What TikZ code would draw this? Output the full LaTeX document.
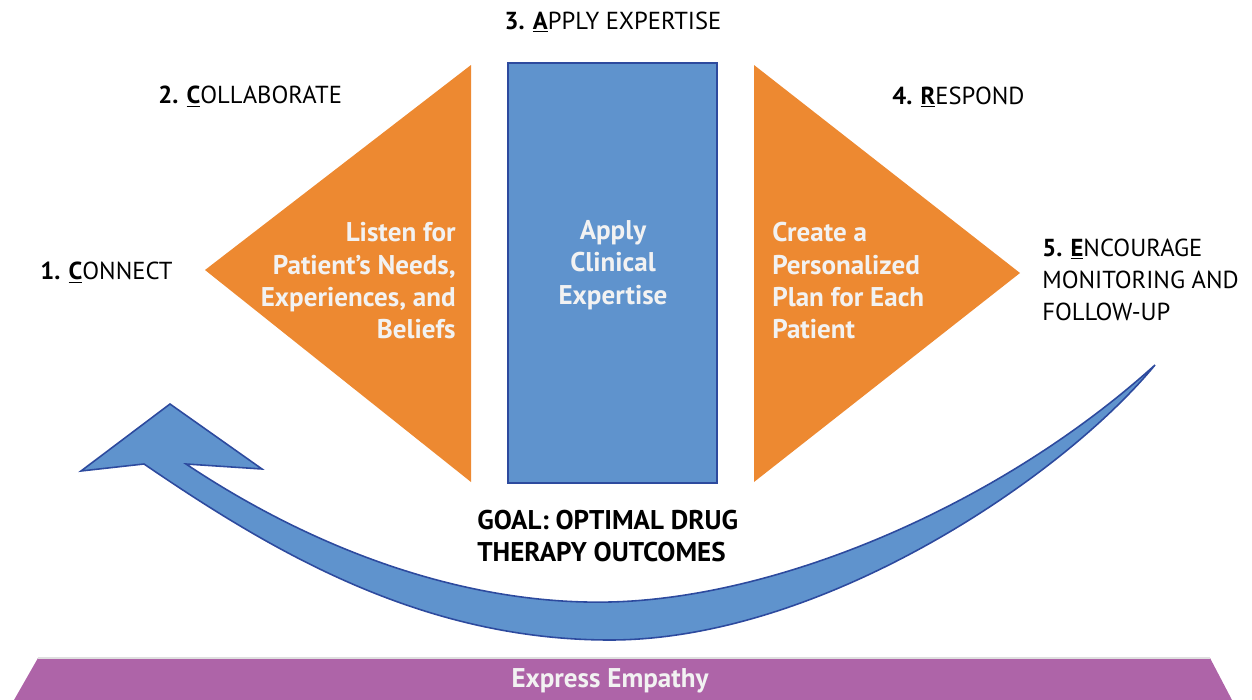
\documentclass[tikz,border=0pt]{standalone}
\usepackage{fontspec}
\setmainfont{PT Sans}
\definecolor{wedgeorange}{RGB}{237,137,49}
\definecolor{boxblue}{RGB}{95,147,205}
\definecolor{edgeblue}{RGB}{45,74,158}
\definecolor{basepurple}{RGB}{174,100,168}
\definecolor{paletext}{RGB}{242,242,242}
\tikzset{
  steplabel/.style={inner sep=0pt, font=\fontsize{14}{18.4}\selectfont},
  boxtext/.style={inner sep=0pt, text=paletext, font=\fontsize{15.4}{18.4}\selectfont\bfseries},
}
\begin{document}
\begin{tikzpicture}[x=0.02cm, y=-0.02cm]
\def\leftwedge{(205,270) -- (471,65) -- (471,482) -- cycle}
\def\rightwedge{(754,65) -- (1020,273) -- (754,482) -- cycle}
\def\basebar{(38,658) -- (1210,658) -- (1232,700) -- (14,700) -- cycle}
\useasboundingbox (0,0) rectangle (1252,700);
\fill[wedgeorange] \leftwedge;
\fill[wedgeorange] \rightwedge;
\draw[edgeblue, line width=1.2pt, fill=boxblue] (508,63) rectangle (717,483);
\fill[basepurple] \basebar;
\draw[gray!25, line width=1pt] (38,658) -- (1210,658);
% curved return arrow
\draw[edgeblue, line width=0.9pt, fill=boxblue, line join=miter]
  (186,464) .. controls (330,560) and (480,605) .. (610,602)
  .. controls (780,598) and (1000,505) .. (1155,365)
  .. controls (1060,480) and (820,640) .. (610,640)
  .. controls (420,640) and (270,550) .. (144,464)
  -- (81,471) -- (170,404) -- (262,469) -- cycle;
\node[boxtext, align=right, anchor=east] (listen) at (456,281) {Listen for\\Patient’s Needs,\\Experiences, and\\Beliefs};
\node[boxtext, align=center] (apply) at (613,265) {Apply\\Clinical\\Expertise};
\node[boxtext, align=left, anchor=west] (plan) at (772,281) {Create a\\Personalized\\Plan for Each\\Patient};
\node[steplabel, anchor=west] (connect) at (40,273) {\textbf{1. \underline{C}}ONNECT};
\node[steplabel, anchor=west] (collab) at (158,97) {\textbf{2. \underline{C}}OLLABORATE};
\node[steplabel] (expert) at (613,22) {\textbf{3. \underline{A}}PPLY EXPERTISE};
\node[steplabel, anchor=west] (respond) at (892,97) {\textbf{4. \underline{R}}ESPOND};
\node[steplabel, align=left, anchor=west] (encourage) at (1042,280) {\textbf{5. \underline{E}}NCOURAGE\\MONITORING AND\\FOLLOW-UP};
\node[steplabel, align=left, anchor=west, font=\fontsize{15.4}{18.4}\selectfont\bfseries] (goal) at (477,536) {GOAL: OPTIMAL DRUG\\THERAPY OUTCOMES};
\node[boxtext] (empathy) at (610,681) {Express Empathy};
\end{tikzpicture}
\end{document}
